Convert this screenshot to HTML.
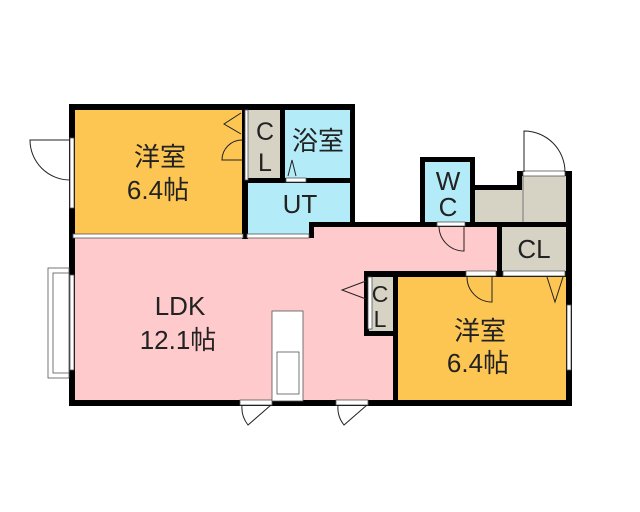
<!DOCTYPE html>
<html><head><meta charset="utf-8"><style>
html,body{margin:0;padding:0;background:#fff;}
svg{display:block;}
text{font-family:"Liberation Sans","Noto Sans CJK JP",sans-serif;fill:#222;text-anchor:middle;}
</style></head><body>
<svg width="640" height="512" viewBox="0 0 640 512" xmlns="http://www.w3.org/2000/svg">
<rect x="72" y="107" width="175" height="132" fill="#fdc653"/>
<rect x="246" y="107" width="38" height="75" fill="#d6d2c4"/>
<rect x="284" y="107" width="70" height="75" fill="#b3ecf8"/>
<rect x="246" y="181" width="108" height="56" fill="#b3ecf8"/>
<rect x="72" y="237" width="325" height="166" fill="#fecacb"/>
<rect x="313" y="225" width="187" height="50" fill="#fecacb"/>
<rect x="424" y="161" width="48" height="63" fill="#b3ecf8"/>
<rect x="472" y="188" width="98" height="37" fill="#d6d2c4"/>
<rect x="518" y="172" width="52" height="53" fill="#d6d2c4"/>
<rect x="500" y="225" width="68" height="50" fill="#d6d2c4"/>
<rect x="367" y="274" width="28" height="60" fill="#d6d2c4"/>
<rect x="396" y="275" width="172" height="128" fill="#fdc653"/>
<line x1="523" y1="176" x2="523" y2="222" stroke="#777" stroke-width="1"/>
<g fill="#000">
<rect x="69" y="104" width="6" height="302"/>
<rect x="69" y="104" width="286" height="6"/>
<rect x="242" y="104" width="6" height="135"/>
<rect x="280" y="104" width="5" height="78"/>
<rect x="350" y="104" width="5" height="123"/>
<rect x="242" y="178" width="113" height="5"/>
<rect x="309" y="222" width="263" height="5"/>
<rect x="309" y="222" width="5" height="16"/>
<rect x="69" y="400" width="503" height="6"/>
<rect x="420" y="157" width="5" height="70"/>
<rect x="470" y="157" width="5" height="70"/>
<rect x="420" y="157" width="55" height="5"/>
<rect x="470" y="185" width="52" height="5"/>
<rect x="517" y="171" width="5" height="19"/>
<rect x="517" y="171" width="55" height="5"/>
<rect x="566" y="171" width="6" height="235"/>
<rect x="497" y="222" width="5" height="55"/>
<rect x="364" y="271" width="208" height="6"/>
<rect x="364" y="271" width="5" height="64"/>
<rect x="364" y="331" width="34" height="5"/>
<rect x="393" y="271" width="5" height="135"/>
</g>
<g fill="#fff" stroke="#555" stroke-width="0.8">
<rect x="70" y="138" width="4" height="70"/>
<rect x="70" y="275" width="4" height="95"/>
<rect x="73" y="234" width="170" height="4"/>
<rect x="247" y="234" width="62" height="4"/>
<rect x="286" y="178" width="20" height="4"/>
<rect x="245" y="110" width="3" height="70"/>
<rect x="368" y="277" width="4" height="52"/>
<rect x="437" y="222" width="28" height="4"/>
<rect x="466" y="271" width="30" height="5"/>
<rect x="503" y="271" width="62" height="5"/>
<rect x="523" y="171" width="42" height="5"/>
<rect x="567" y="305" width="4" height="65"/>
<rect x="240" y="400" width="32" height="5"/>
<rect x="336" y="400" width="32" height="5"/>
<rect x="272" y="311" width="31" height="90"/>
<rect x="277" y="352" width="22" height="42"/>
<rect x="48" y="268" width="21" height="110"/>
<rect x="53" y="273" width="16" height="100"/>
</g>
<g fill="none" stroke="#222" stroke-width="1">
<path d="M70 140 L30 140 A40 40 0 0 0 70 180"/>
<path d="M524 172 L524 131 A41 41 0 0 1 565 172"/>
<path d="M242 140 A20 20 0 0 0 222 160 L242 160"/>
<path d="M241 113 L224 124 L241 134"/>
<path d="M288 176 L292 160 L296 176"/>
<path d="M439 226 A25 25 0 0 0 464 251 L464 226"/>
<path d="M467 277 A25 25 0 0 0 492 302 L492 277"/>
<path d="M547 277 L555 302 L563 277"/>
<path d="M366 281 L342 290 L366 299"/>
<path d="M242 405 A28 28 0 0 0 248 425 L271 405"/>
<path d="M338 405 A28 28 0 0 0 344 425 L367 405"/>
</g>
<text x="160" y="166" font-size="26">洋室</text>
<text x="158" y="199" font-size="26">6.4帖</text>
<text x="265" y="140" font-size="25">C</text>
<text x="265" y="171" font-size="25">L</text>
<text x="318" y="150" font-size="26">浴室</text>
<text x="300" y="213" font-size="26">UT</text>
<text x="448" y="190" font-size="26">W</text>
<text x="448" y="216" font-size="26">C</text>
<text x="534" y="258" font-size="26">CL</text>
<text x="380" y="302" font-size="23">C</text>
<text x="380" y="327" font-size="23">L</text>
<text x="180" y="315" font-size="26">LDK</text>
<text x="178" y="349" font-size="26">12.1帖</text>
<text x="480" y="340" font-size="26">洋室</text>
<text x="478" y="372" font-size="26">6.4帖</text>
</svg>
</body></html>
